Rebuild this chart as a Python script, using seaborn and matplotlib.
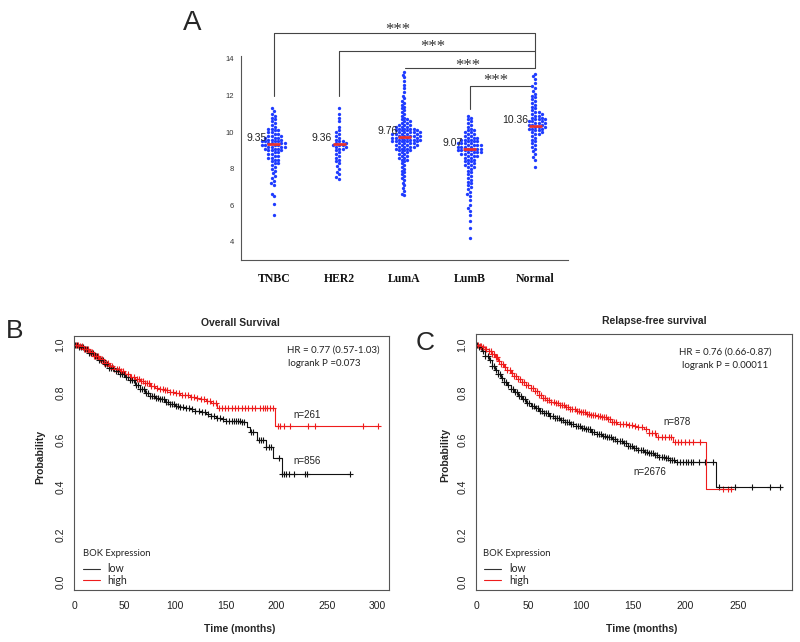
import numpy as np
import pandas as pd
import matplotlib
matplotlib.use("Agg")
import matplotlib.pyplot as plt
from matplotlib.lines import Line2D
import seaborn as sns

# ---------------- panel A data (value : count) ----------------
groups = ["TNBC", "HER2", "LumA", "LumB", "Normal"]
means = [9.35, 9.36, 9.76, 9.07, 10.36]

tnbc_vals = [5.45, 6.1, 6.5, 6.65, 7.1, 7.2, 7.35, 7.5, 7.6, 7.75, 7.9, 8.0, 8.1, 8.2, 8.3, 8.4, 8.5, 8.6, 8.7,
             8.8, 8.9, 9.0, 9.1, 9.2, 9.3, 9.4, 9.5, 9.6, 9.7, 9.8, 9.9, 10.0, 10.1, 10.2, 10.3, 10.4, 10.5,
             10.6, 10.7, 10.8, 10.9, 11.0, 11.15, 11.3]
tnbc_cnts = [1, 1, 1, 1, 1, 1, 1, 1, 1, 1, 1, 1, 1, 1, 2, 1, 2, 2, 2,
             2, 2, 3, 3, 4, 4, 4, 4, 3, 3, 3, 2, 2, 2, 2, 1, 1, 1,
             1, 1, 1, 1, 1, 1, 1]

her2_vals = [7.45, 7.55, 7.7, 7.85, 8.0, 8.15, 8.3, 8.4, 8.5, 8.6, 8.7, 8.8, 8.9, 9.0, 9.1, 9.2, 9.3, 9.4,
             9.5, 9.6, 9.7, 9.8, 9.9, 10.0, 10.1, 10.3, 10.6, 10.8, 11.0, 11.3]
her2_cnts = [1, 1, 1, 1, 1, 1, 1, 1, 1, 1, 1, 1, 1, 1, 2, 2, 3, 2,
             2, 1, 1, 1, 1, 1, 1, 1, 1, 1, 1, 1]

luma_vals = [6.55, 6.65, 6.8, 6.95, 7.1, 7.25, 7.4, 7.5, 7.6, 7.7, 7.8, 7.9, 8.0, 8.1, 8.2, 8.3, 8.4, 8.5,
             8.6, 8.7, 8.8, 8.9, 9.0, 9.1, 9.2, 9.3, 9.4, 9.5, 9.6, 9.7, 9.8, 9.9, 10.0, 10.1, 10.2, 10.3,
             10.4, 10.5, 10.6, 10.7, 10.8, 10.9, 11.0, 11.1, 11.2, 11.3, 11.4, 11.5, 11.6, 11.7, 11.85,
             12.0, 12.2, 12.4, 12.6, 12.8, 13.0, 13.15, 13.3]
luma_cnts = [1, 1, 1, 1, 1, 1, 1, 1, 1, 1, 1, 1, 1, 1, 1, 1, 1, 2,
             2, 2, 2, 2, 3, 3, 4, 4, 4, 5, 5, 5, 5, 5, 5, 4, 4, 3,
             3, 2, 2, 2, 1, 1, 1, 1, 1, 1, 1, 1, 1, 1, 1,
             1, 1, 1, 1, 1, 1, 1, 1]

lumb_vals = [4.2, 4.75, 5.15, 5.5, 5.7, 5.85, 6.0, 6.3, 6.5, 6.6, 6.75, 6.9, 7.0, 7.1, 7.2, 7.3, 7.4, 7.5,
             7.6, 7.7, 7.8, 7.9, 8.0, 8.1, 8.2, 8.3, 8.4, 8.5, 8.6, 8.7, 8.8, 8.9, 9.0, 9.1, 9.2, 9.3,
             9.4, 9.5, 9.6, 9.7, 9.8, 9.9, 10.0, 10.1, 10.2, 10.3, 10.4, 10.5, 10.6, 10.7, 10.8, 10.9]
lumb_cnts = [1, 1, 1, 1, 1, 1, 1, 1, 1, 1, 1, 1, 1, 1, 1, 1, 1, 1,
             1, 1, 1, 1, 1, 2, 2, 2, 2, 2, 2, 3, 3, 4, 4, 4, 4, 4,
             4, 3, 3, 3, 2, 2, 2, 2, 1, 1, 1, 1, 1, 1, 1, 1]

normal_vals = [8.1, 8.5, 8.65, 8.8, 8.95, 9.1, 9.2, 9.3, 9.4, 9.5, 9.6, 9.7, 9.8, 9.9, 10.0, 10.1, 10.2,
               10.3, 10.4, 10.5, 10.6, 10.7, 10.8, 10.9, 11.0, 11.1, 11.2, 11.3, 11.4, 11.5, 11.6, 11.7,
               11.8, 11.9, 12.0, 12.1, 12.25, 12.4, 12.5, 12.7, 12.9, 13.05, 13.2]
normal_cnts = [1, 1, 1, 1, 1, 1, 1, 1, 1, 1, 1, 1, 1, 2, 2, 2, 3,
               3, 3, 3, 3, 3, 2, 2, 2, 2, 1, 1, 1, 1, 1, 1,
               1, 1, 1, 1, 1, 1, 1, 1, 1, 1, 1]

# ---------------- panel B data (Overall Survival) ----------------
os_low_t = [0, 5, 10, 15, 20, 25, 30, 35, 40, 45, 50, 55, 60, 65, 70, 75, 80, 85, 90, 95, 100, 105, 110,
            115, 120, 125, 130, 135, 140, 145, 150, 155, 165, 170.5, 174, 180.5, 190, 197, 205, 272.5]
os_low_s = [1.0, 0.993, 0.983, 0.968, 0.952, 0.935, 0.918, 0.902, 0.89, 0.878, 0.864, 0.85, 0.833, 0.812,
            0.795, 0.786, 0.778, 0.77, 0.761, 0.752, 0.744, 0.738, 0.733, 0.728, 0.722, 0.716, 0.71, 0.702,
            0.693, 0.686, 0.68, 0.677, 0.674, 0.655, 0.634, 0.599, 0.57, 0.521, 0.455, 0.455]
os_low_cens = [1, 3, 5, 7, 9, 11, 13, 15, 17, 19, 21, 23, 25, 27, 29, 31, 33, 35, 37, 39, 41, 43, 45, 47,
               49, 51, 53, 55, 57, 59, 61, 63, 65, 67, 69, 71, 73, 75, 77, 79, 81, 83, 85, 87, 89, 91, 93,
               95, 97, 99, 101, 103, 105, 108, 111, 114, 117, 120, 123, 126, 129, 132, 135, 138, 141, 144,
               147, 150, 153, 156, 158, 160, 162, 164, 166, 168, 175, 177, 183, 185, 187, 190, 193, 195,
               203, 205, 207.5, 209.5, 212, 217, 228, 230, 272.5]

os_high_t = [0, 5, 10, 15, 20, 25, 30, 35, 40, 45, 50, 55, 60, 65, 70, 75, 80, 85, 90, 95, 100, 105, 110,
             115, 120, 125, 130, 135, 141, 199, 300.6]
os_high_s = [1.0, 0.995, 0.985, 0.97, 0.955, 0.94, 0.925, 0.91, 0.898, 0.888, 0.878, 0.866, 0.855, 0.846,
             0.838, 0.828, 0.82, 0.814, 0.808, 0.80, 0.795, 0.79, 0.787, 0.782, 0.776, 0.77, 0.765, 0.755,
             0.733, 0.659, 0.659]
os_high_cens = [2, 4, 6, 8, 10, 12, 14, 16, 18, 20, 22, 24, 26, 28, 30, 32, 34, 36, 38, 40, 42, 44, 46, 48,
                50, 53, 56, 59, 62, 64, 66, 68, 70, 72, 74, 76, 79, 82, 85, 88, 90, 92, 95, 98, 101, 104,
                107, 110, 113, 116, 119, 122, 125, 128, 131, 134, 137, 140, 143, 146, 149, 152.5, 156, 159,
                162.5, 166, 169, 172, 175.5, 179, 184, 186.5, 189, 191, 194, 197, 202, 204, 207, 213,
                231.5, 238, 286, 300.6]

# ---------------- panel C data (Relapse-free survival) ----------------
rfs_low_t = [0, 3, 6, 9, 12, 15, 18, 21, 24, 27, 30, 33, 36, 40, 44, 48, 52, 56, 60, 65, 70, 75, 80, 85,
             90, 95, 100, 105, 110, 115, 120, 125, 130, 135, 140, 145, 150, 155, 160, 165, 170, 175, 180,
             185, 190, 229, 291.7]
rfs_low_s = [1.0, 0.99, 0.975, 0.955, 0.935, 0.912, 0.893, 0.876, 0.86, 0.845, 0.83, 0.816, 0.802, 0.785,
             0.771, 0.756, 0.743, 0.732, 0.722, 0.711, 0.702, 0.692, 0.683, 0.673, 0.665, 0.657, 0.65,
             0.643, 0.632, 0.622, 0.615, 0.61, 0.603, 0.596, 0.585, 0.573, 0.563, 0.555, 0.548, 0.542,
             0.536, 0.528, 0.522, 0.516, 0.507, 0.401, 0.401]
rfs_low_cens = [1, 3, 5, 7, 9, 11, 13, 15, 17, 19, 21, 23, 25, 27, 29, 31, 33, 35, 37, 39, 41, 43, 45, 47,
                49, 51, 53, 55, 57, 59, 61, 63, 65, 67, 69, 71, 73, 75, 77, 79, 81, 83, 85, 87, 89, 91, 93,
                95, 97, 99, 101, 103, 105, 107, 109, 111, 113, 115, 117, 119, 121, 123, 125, 127, 129, 131,
                133, 135, 137, 139, 141, 143, 145, 147, 149, 151, 153, 155, 157, 159, 161, 163, 165, 167,
                169, 171, 173, 175, 177, 179, 181, 183, 185, 187, 189, 191.5, 194.7, 197.9, 200.4, 202.7,
                205.2, 207.5, 212.3, 218.6, 226, 232.3, 247, 263.4, 280.3, 289.8]

rfs_high_t = [0, 3, 6, 9, 12, 15, 18, 21, 24, 27, 30, 33, 36, 40, 44, 48, 52, 56, 60, 64, 68, 72, 76, 80,
              85, 90, 95, 100, 105, 110, 115, 120, 125, 130, 135, 140, 145, 150, 155, 160, 165, 172, 188,
              219.5, 244]
rfs_high_s = [1.0, 0.995, 0.99, 0.985, 0.975, 0.962, 0.948, 0.934, 0.92, 0.906, 0.893, 0.882, 0.871,
              0.858, 0.845, 0.832, 0.818, 0.804, 0.79, 0.776, 0.766, 0.76, 0.754, 0.748, 0.739, 0.731,
              0.723, 0.716, 0.709, 0.703, 0.699, 0.695, 0.688, 0.676, 0.668, 0.664, 0.66, 0.657, 0.652,
              0.645, 0.628, 0.613, 0.591, 0.393, 0.393]
rfs_high_cens = [2, 4, 5, 7, 9, 10, 12, 14, 15, 17, 19, 20, 22, 24, 26, 28, 30, 32, 34, 36, 38, 40, 42,
                 44, 46, 48, 50, 52, 54, 56, 58, 60, 62, 64, 66, 68, 70, 72, 74, 76, 78, 80, 82, 84, 86, 88,
                 90, 92, 94, 96, 98, 100, 102, 104, 106, 108, 110, 112, 114, 116, 118, 120, 122, 124, 126,
                 128, 130, 132, 134, 137, 140, 143, 146, 149, 152, 155, 158, 162, 165, 168, 171, 174, 177,
                 180, 184, 186, 190, 193, 196, 199.5, 203, 207.5, 214, 235.7, 240, 243.6]

BLUE = "#1f3cff"
RED = "#e8312f"
KM_RED = "#ee1c1c"
GRAY = "#444444"

sns.set_style("white")
plt.rcParams["font.family"] = ["Liberation Sans", "DejaVu Sans"]

W, H = 800, 642
fig = plt.figure(figsize=(W / 100, H / 100), dpi=100)


def fx(x):
    return x / W


def fy(y):
    return 1 - y / H


# ================= panel A =================
axA = fig.add_axes([fx(241), fy(260.3), 327 / W, (260.3 - 16.9) / H])
rows = []
for g, v, c in zip(groups,
                   [tnbc_vals, her2_vals, luma_vals, lumb_vals, normal_vals],
                   [tnbc_cnts, her2_cnts, luma_cnts, lumb_cnts, normal_cnts]):
    vals = np.repeat(v, c)
    rows.append(pd.DataFrame({"group": g, "value": vals}))
dfA = pd.concat(rows, ignore_index=True)

sns.swarmplot(data=dfA, x="group", y="value", order=groups, color=BLUE, size=2.4,
              linewidth=0, ax=axA)
axA.set_xlim(-0.5, 4.5)
axA.set_ylim(3, 16.3)
axA.set_xlabel("")
axA.set_ylabel("")
axA.set_yticks([4, 6, 8, 10, 12, 14])
for s in ["top", "right"]:
    axA.spines[s].set_visible(False)
for s in ["left", "bottom"]:
    axA.spines[s].set_color("#555555")
    axA.spines[s].set_linewidth(0.8)
axA.spines["left"].set_bounds(3, 14.15)
axA.tick_params(axis="y", length=3, width=0.7, color="#555555", labelsize=5.5, labelcolor="#333333", pad=2)
axA.tick_params(axis="x", length=3, width=0.7, color="#555555", pad=6)
for lab in axA.get_xticklabels():
    lab.set_family(["Liberation Serif", "DejaVu Serif"])
    lab.set_fontweight("bold")
    lab.set_fontsize(8.5)
    lab.set_color("#111111")

for i, m in enumerate(means):
    axA.hlines(m, i - 0.1, i + 0.1, color=RED, lw=2, zorder=5)
    axA.text(i - 0.11, m + 0.33, f"{m:.2f}", ha="right", va="center", fontsize=7.5,
             color="#222222", zorder=6)

# significance brackets
bk = dict(color=GRAY, lw=0.8, clip_on=False)
axA.plot([0, 0, 4, 4], [12.0, 15.4, 15.4, 14.45], **bk)
axA.plot([1, 1, 4, 4], [12.0, 14.45, 14.45, 13.49], **bk)
axA.plot([2, 4], [13.49, 13.49], **bk)
axA.plot([3, 3, 3.93], [11.27, 12.52, 12.52], **bk)
star_kw = dict(ha="center", va="center", fontsize=12, color="#333333",
               family=["Liberation Serif", "DejaVu Serif"])
for sx, sy in [(1.9, 15.6), (2.43, 14.66), (2.96, 13.64), (3.40, 12.8)]:
    axA.text(sx, sy, "***", **star_kw)

fig.text(fx(191.7), fy(23.3), "A", fontsize=20, ha="center", va="center")


# ================= survival panels =================
def km_panel(ax, low_t, low_s, low_c, high_t, high_s, high_c, xmax, ymax, xticks):
    for t, s, cens, col in [(low_t, low_s, low_c, "#111111"), (high_t, high_s, high_c, KM_RED)]:
        t = np.asarray(t, float)
        s = np.asarray(s, float)
        sns.lineplot(x=t, y=s, drawstyle="steps-post", color=col, lw=0.8, estimator=None,
                     sort=False, ax=ax)
        c = np.asarray(cens, float)
        cy = s[np.searchsorted(t, c, side="right") - 1]
        sns.scatterplot(x=c, y=cy, marker="+", s=22, color=col, linewidth=0.8, ax=ax)
    ax.set_xlim(0, xmax)
    ax.set_ylim(-0.0355, ymax)
    ax.set_xticks(xticks)
    ax.set_yticks([0, 0.2, 0.4, 0.6, 0.8, 1.0])
    ax.set_yticklabels(["0.0", "0.2", "0.4", "0.6", "0.8", "1.0"], rotation=90, va="center")
    ax.set_xlabel("")
    ax.set_ylabel("")
    for s in ax.spines.values():
        s.set_color("#555555")
        s.set_linewidth(0.8)
    ax.tick_params(axis="both", direction="out", length=3.6, width=0.7, color="#444444",
                   labelsize=7.5, labelcolor="#222222")
    ax.tick_params(axis="x", pad=4.5)
    ax.tick_params(axis="y", pad=2.5)


def legend_block(x_title, y_title, x_line, x_lab):
    fig.text(fx(x_title), fy(y_title), "BOK Expression", fontsize=6.8, ha="left", va="center",
             color="#222222", family=["Lato", "DejaVu Sans"])
    for yy, col, lab in [(569, "#333333", "low"), (580, KM_RED, "high")]:
        fig.add_artist(Line2D([fx(x_line), fx(x_line + 17)], [fy(yy), fy(yy)], color=col, lw=0.8))
        fig.text(fx(x_lab), fy(yy), lab, fontsize=7.6, ha="left", va="center", color="#222222",
                 family=["Lato", "DejaVu Sans"])


# ----- B -----
axB = fig.add_axes([fx(74), fy(590), 315 / W, 254 / H])
km_panel(axB, os_low_t, os_low_s, os_low_cens, os_high_t, os_high_s, os_high_cens,
         311.2, 1.038, [0, 50, 100, 150, 200, 250, 300])
fig.text(fx(240), fy(323), "Overall Survival", fontsize=7.5, fontweight="bold", ha="center", va="center")
fig.text(fx(240), fy(629), "Time (months)", fontsize=7.5, fontweight="bold", ha="center", va="center")
fig.text(fx(40.7), fy(457), "Probability", fontsize=7.5, fontweight="bold", rotation=90,
         ha="center", va="center")
fig.text(fx(287), fy(350), "HR = 0.77 (0.57-1.03)", fontsize=7, ha="left", va="center",
         color="#222222", family=["Lato", "DejaVu Sans"])
fig.text(fx(288.5), fy(363), "logrank P =0.073", fontsize=7, ha="left", va="center",
         color="#222222", family=["Lato", "DejaVu Sans"])
fig.text(fx(293.3), fy(415), "n=261", fontsize=7, ha="left", va="center", color="#222222")
fig.text(fx(293.3), fy(461), "n=856", fontsize=7, ha="left", va="center", color="#222222")
legend_block(83, 554, 83, 107.3)
fig.text(fx(15), fy(331), "B", fontsize=19, ha="center", va="center")

# ----- C -----
axC = fig.add_axes([fx(476), fy(590), 316 / W, 256 / H])
km_panel(axC, rfs_low_t, rfs_low_s, rfs_low_cens, rfs_high_t, rfs_high_s, rfs_high_cens,
         301.5, 1.0465, [0, 50, 100, 150, 200, 250])
fig.text(fx(654), fy(321), "Relapse-free survival", fontsize=7.5, fontweight="bold", ha="center",
         va="center")
fig.text(fx(642), fy(629), "Time (months)", fontsize=7.5, fontweight="bold", ha="center", va="center")
fig.text(fx(445), fy(455), "Probability", fontsize=7.5, fontweight="bold", rotation=90,
         ha="center", va="center")
fig.text(fx(725.5), fy(351.7), "HR = 0.76 (0.66-0.87)", fontsize=7, ha="center", va="center",
         color="#222222", family=["Lato", "DejaVu Sans"])
fig.text(fx(725.5), fy(365), "logrank P = 0.00011", fontsize=7, ha="center", va="center",
         color="#222222", family=["Lato", "DejaVu Sans"])
fig.text(fx(663.3), fy(421.7), "n=878", fontsize=7, ha="left", va="center", color="#222222")
fig.text(fx(633.3), fy(471.7), "n=2676", fontsize=7, ha="left", va="center", color="#222222")
legend_block(483.3, 553.3, 484, 509.3)
fig.text(fx(425), fy(342.5), "C", fontsize=19, ha="center", va="center")

fig.savefig("out.png", dpi=100)
